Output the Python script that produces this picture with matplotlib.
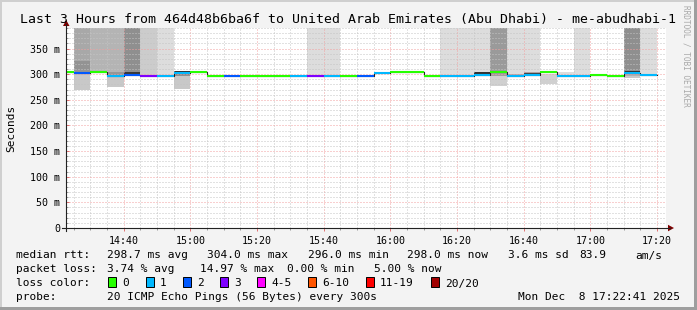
import matplotlib

matplotlib.use("Agg")
import matplotlib.pyplot as plt
from matplotlib.lines import Line2D
from matplotlib.patches import Polygon, Rectangle
from matplotlib.ticker import FixedLocator, FuncFormatter, MultipleLocator

W, H = 697, 310

title = "Last 3 Hours from 464d48b6ba6f to United Arab Emirates (Abu Dhabi) - me-abudhabi-1"
start_time = "14:22:41"
end_time = "17:22:41"

# 5 minute bins (end time), median rtt in ms, lost pings out of 20
bin_end = [
    "14:25", "14:30", "14:35", "14:40", "14:45", "14:50", "14:55", "15:00",
    "15:05", "15:10", "15:15", "15:20", "15:25", "15:30", "15:35", "15:40",
    "15:45", "15:50", "15:55", "16:00", "16:05", "16:10", "16:15", "16:20",
    "16:25", "16:30", "16:35", "16:40", "16:45", "16:50", "16:55", "17:00",
    "17:05", "17:10", "17:15", "17:20",
]
median_ms = [
    303.5, 303, 303.5, 296, 298, 296, 296, 302,
    303.5, 296, 296, 296, 296, 296, 296, 296,
    296, 296, 296, 303, 303.5, 303.5, 296, 296,
    296, 298, 303.5, 296, 298, 303.5, 296, 296,
    299, 296, 303, 298,
]
loss_count = [
    0, 2, 0, 1, 2, 3, 1, 1,
    0, 0, 2, 0, 0, 0, 1, 3,
    1, 0, 2, 1, 0, 0, 0, 1,
    1, 1, 0, 1, 1, 0, 1, 1,
    0, 0, 1, 1,
]

# smoke bands (ping spread)
smoke_bin = [
    "14:30", "14:30", "14:30", "14:35", "14:40", "14:40", "14:40", "14:45",
    "14:45", "14:50", "14:55", "15:00", "15:00", "15:00", "15:40", "15:45",
    "16:20", "16:25", "16:30", "16:30", "16:35", "16:35", "16:35", "16:40",
    "16:40", "16:45", "16:45", "16:45", "16:50", "16:55", "17:00", "17:15",
    "17:15", "17:15", "17:15", "17:20",
]
smoke_lo = [
    325.5, 303, 270, 303, 304, 297, 275, 304,
    300, 297, 297, 303, 296, 272, 297, 297,
    297, 297, 304, 300, 304, 297, 277, 301,
    297.5, 305, 303, 300, 280, 297, 297, 305,
    303.5, 297, 292, 299,
]
smoke_hi = [
    420, 325.5, 301, 420, 420, 304, 295, 420,
    304, 420, 420, 305.5, 300.5, 296, 420, 420,
    420, 420, 420, 304, 420, 302, 297, 420,
    301, 420, 305, 303, 301, 305, 420, 420,
    306, 301, 297, 420,
]
smoke_shade = [
    "#a8a8a8", "#939393", "#c8c8c8", "#b4b4b4", "#b4b4b4", "#969696", "#c8c8c8", "#8f8f8f",
    "#3a3a3a", "#cccccc", "#dddddd", "#333333", "#909090", "#c8c8c8", "#dddddd", "#dddddd",
    "#dddddd", "#dddddd", "#dddddd", "#333333", "#9a9a9a", "#a0a0a0", "#d0d0d0", "#dddddd",
    "#b0a8a8", "#dddddd", "#b0a0a0", "#444444", "#d0d0d0", "#dddddd", "#dddddd", "#8f8f8f",
    "#333333", "#b0b0b0", "#c8c8c8", "#dddddd",
]

loss_labels = ["0", "1", "2", "3", "4-5", "6-10", "11-19", "20/20"]
loss_colors = ["#26ff00", "#00b8ff", "#0059ff", "#7e00ff", "#ff00ff", "#ff5500", "#ff0000", "#a10000"]

legend_lines = [
    ("median rtt:", [("298.7 ms avg", 107), ("304.0 ms max", 207), ("296.0 ms min", 308),
                     ("298.0 ms now", 407), ("3.6 ms sd", 508), ("83.9", 579), ("am/s", 635)]),
    ("packet loss:", [("3.74 % avg", 107), ("14.97 % max", 200), ("0.00 % min", 287),
                      ("5.00 % now", 374)]),
]
probe_text = "20 ICMP Echo Pings (56 Bytes) every 300s"
date_text = "Mon Dec  8 17:22:41 2025"


def to_min(s):
    parts = [int(p) for p in s.split(":")]
    while len(parts) < 3:
        parts.append(0)
    return parts[0] * 60 + parts[1] + parts[2] / 60.0


def loss_index(n):
    if n <= 3:
        return n
    if n <= 5:
        return 4
    if n <= 10:
        return 5
    if n <= 19:
        return 6
    return 7


def fx(x):
    return x / W


def fy(y):
    return 1 - y / H


mono = "DejaVu Sans Mono"
plt.rcParams["font.family"] = mono

fig = plt.figure(figsize=(W / 100, H / 100), dpi=100, facecolor="#f3f3f3")

# frame shading like rrdtool
fig.add_artist(Rectangle((0, 0), fx(2), 1, transform=fig.transFigure, color="#cfcfcf", lw=0))
fig.add_artist(Rectangle((0, fy(2)), 1, 2 / H, transform=fig.transFigure, color="#cfcfcf", lw=0))
fig.add_artist(Rectangle((fx(694), 0), 3 / W, 1, transform=fig.transFigure, color="#9e9e9e", lw=0))
fig.add_artist(Rectangle((0, 0), 1, 3 / H, transform=fig.transFigure, color="#9e9e9e", lw=0))

ax = fig.add_axes([fx(66), fy(228), 600 / W, 200 / H])
ax.set_facecolor("white")
t0, t1 = to_min(start_time), to_min(end_time)
ax.set_xlim(t0, t1)
ax.set_ylim(0, 390)

# Smoke
for b, lo, hi, sh in zip(smoke_bin, smoke_lo, smoke_hi, smoke_shade):
    e = to_min(b)
    ax.bar(e - 5, hi - lo, bottom=lo, width=5, align="edge", color=sh, linewidth=0, zorder=1)

# Median line: dark step underneath, coloured by loss on top
ends = [to_min(b) for b in bin_end]
step_x = [ends[0] - 5] + ends
step_y = [median_ms[0]] + median_ms
ax.step(step_x, step_y, where="pre", color="#222222", lw=0.8, zorder=3)
for e, m, n in zip(ends, median_ms, loss_count):
    ax.hlines(m, e - 5, e, color=loss_colors[loss_index(n)], lw=1.5, zorder=4)

# Grid
ax.xaxis.set_major_locator(FixedLocator([to_min(t) for t in
                                         ["14:40", "15:00", "15:20", "15:40", "16:00", "16:20", "16:40", "17:00", "17:20"]]))
ax.xaxis.set_minor_locator(FixedLocator([to_min("14:25") + 5 * i for i in range(36)]))
ax.xaxis.set_major_formatter(FuncFormatter(lambda v, p: "%02d:%02d" % (int(round(v)) // 60, int(round(v)) % 60)))
ax.yaxis.set_major_locator(MultipleLocator(50))
ax.yaxis.set_minor_locator(MultipleLocator(10))
ax.yaxis.set_major_formatter(FuncFormatter(lambda v, p: "0" if v == 0 else "%d m" % v))

ax.set_axisbelow(False)
ax.grid(which="minor", color="#c4c4c4", lw=0.72, linestyle=(0, (1, 2)), zorder=2)
ax.grid(which="major", color="#f2a0a0", lw=0.72, linestyle=(0, (1, 2)), zorder=2)

ax.tick_params(axis="x", which="major", direction="out", length=2.5, width=0.7, color="#e07070",
               labelsize=7.2, pad=3)
ax.tick_params(axis="x", which="minor", direction="out", length=1.5, width=0.7, color="#999999")
ax.tick_params(axis="y", which="major", direction="in", length=2.5, width=0.7, color="#e07070",
               labelsize=7.2, pad=4.3)
ax.tick_params(axis="y", which="minor", direction="in", length=1.5, width=0.7, color="#999999")
for s in ax.spines.values():
    s.set_visible(False)

# Axes lines with arrows
fig.add_artist(Line2D([fx(66), fx(66)], [fy(231), fy(24)], transform=fig.transFigure, color="#222222", lw=0.8))
fig.add_artist(Line2D([fx(62), fx(670)], [fy(228), fy(228)], transform=fig.transFigure, color="#222222", lw=0.8))
fig.add_artist(Polygon([(fx(63), fy(26)), (fx(69.5), fy(26)), (fx(66.2), fy(20))], closed=True,
                       transform=fig.transFigure, color="#7f0000", lw=0))
fig.add_artist(Polygon([(fx(668), fy(224.8)), (fx(668), fy(231.3)), (fx(674), fy(228))], closed=True,
                       transform=fig.transFigure, color="#7f0000", lw=0))

# Texts
fig.text(fx(347.5), fy(23), title, fontsize=9.5, ha="center", va="baseline")
fig.text(fx(11), fy(128), "Seconds", fontsize=8, rotation=90, ha="center", va="center")
fig.text(fx(686), fy(5), "RRDTOOL / TOBI OETIKER", fontsize=5.6, rotation=270, ha="center", va="top",
         color="#a8a8a8")

base = [258.5, 272.5, 286.5, 300.5]
for (head, items), yb in zip(legend_lines, base):
    fig.text(fx(16), fy(yb), head, fontsize=8, va="baseline")
    for s, x in items:
        fig.text(fx(x), fy(yb), s, fontsize=8, va="baseline")

fig.text(fx(16), fy(base[2]), "loss color:", fontsize=8, va="baseline")
swatch_x = [108, 146, 183, 220, 257, 308, 366, 431]
for lab, col, x in zip(loss_labels, loss_colors, swatch_x):
    fig.add_artist(Rectangle((fx(x), fy(base[2])), 8 / W, 10 / H, transform=fig.transFigure,
                             facecolor=col, edgecolor="black", lw=0.7))
    fig.text(fx(x + 14), fy(base[2]), lab, fontsize=8, va="baseline")

fig.text(fx(16), fy(base[3]), "probe:", fontsize=8, va="baseline")
fig.text(fx(107), fy(base[3]), probe_text, fontsize=8, va="baseline")
fig.text(fx(680), fy(base[3]), date_text, fontsize=8, va="baseline", ha="right")

fig.savefig("out.png", dpi=100, facecolor=fig.get_facecolor())
